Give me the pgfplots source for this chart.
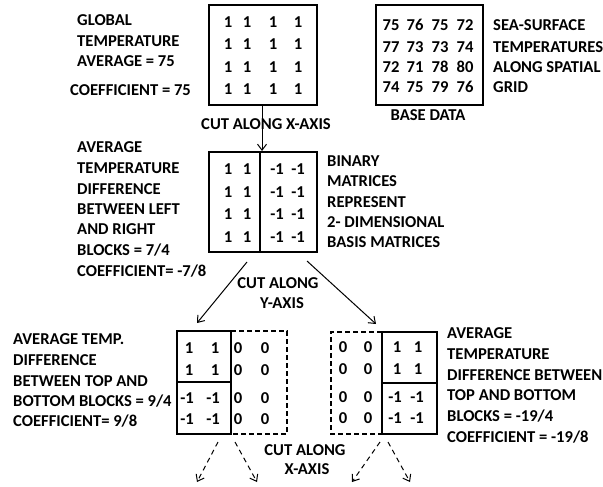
\documentclass[border=0pt]{standalone}
\usepackage{pgfplots}
\pgfplotsset{compat=1.18}
\usepackage{fontspec}
\setmainfont{Carlito}
\usetikzlibrary{arrows.meta}
\begin{document}
\begin{tikzpicture}
\begin{axis}[
  name=main,
  scale only axis, width=603bp, height=487bp,
  xmin=0, xmax=603, ymin=0, ymax=487, y dir=reverse,
  hide axis, clip=true,
  every node/.style={font=\fontsize{16.6bp}{18bp}\bfseries\selectfont, inner sep=0pt},
  mat/.style={draw=none, mark=none, nodes near coords={\pgfplotspointmeta}, nodes near coords align=center, point meta=explicit symbolic,
    every node near coord/.style={font=\fontsize{16.6bp}{18bp}\bfseries\selectfont, inner sep=0pt, anchor=center}},
  lab/.style={draw=none, mark=none, nodes near coords={\pgfplotspointmeta}, point meta=explicit symbolic,
    every node near coord/.style={font=\fontsize{16.6bp}{18bp}\bfseries\selectfont, inner sep=0pt, anchor=west}},
  box/.style={black, line width=2bp, line join=miter, mark=none},
  dbox/.style={black, line width=1.8bp, mark=none, dash pattern=on 5bp off 3bp},
  arr/.style={black, line width=1bp, mark=none, -{Straight Barb[length=6bp,width=9bp]}},
  darr/.style={black, line width=1bp, mark=none, dash pattern=on 5bp off 4bp, -{Straight Barb[length=6bp,width=9bp]}},
]
% ---------- top: global average matrix ----------
\addplot[box] coordinates {(263,5) (317,5) (317,105) (209,105) (209,5) (263,5)};
\addplot[mat] coordinates {
(228,22)[1] (247,22)[1] (273,22)[1] (298,22)[1]
(228,44)[1] (247,44)[1] (273,44)[1] (298,44)[1]
(228,67)[1] (247,67)[1] (273,67)[1] (298,67)[1]
(228,89)[1] (247,89)[1] (273,89)[1] (298,89)[1]};
\addplot[lab] coordinates {(77,20)[GLOBAL] (77,41)[TEMPERATURE] (77,61)[AVERAGE = 75] (70,90)[COEFFICIENT = 75]};
% ---------- base data ----------
\addplot[box] coordinates {(430,5) (483,5) (483,105) (376,105) (376,5) (430,5)};
\addplot[mat] coordinates {
(391,25)[75] (415,25)[76] (440,25)[75] (465,25)[72]
(391,47)[77] (415,47)[73] (440,47)[73] (465,47)[74]
(391,67)[72] (415,67)[71] (440,67)[78] (465,67)[80]
(391,87)[74] (415,87)[75] (440,87)[79] (465,87)[76]};
\addplot[lab] coordinates {(493,25)[SEA-SURFACE] (493,47)[TEMPERATURES] (493,67)[ALONG SPATIAL] (493,87)[GRID]};
\addplot[mat] coordinates {(428,115)[BASE DATA]};
% ---------- cut along x ----------
\addplot[mat] coordinates {(266,124)[CUT ALONG X-AXIS]};
\addplot[arr] coordinates {(262,105) (262,151)};
% ---------- middle matrix ----------
\addplot[box] coordinates {(263,152) (317,152) (317,252) (209,252) (209,152) (263,152)};
\addplot[black, line width=1.3bp, mark=none] coordinates {(260,152) (260,252)};
\addplot[mat] coordinates {
(228,169)[1] (247,169)[1] (277,169)[-1] (298,169)[-1]
(228,192)[1] (247,192)[1] (277,192)[-1] (298,192)[-1]
(228,214)[1] (247,214)[1] (277,214)[-1] (298,214)[-1]
(228,237)[1] (247,237)[1] (277,237)[-1] (298,237)[-1]};
\addplot[lab] coordinates {(77,147)[AVERAGE] (77,168)[TEMPERATURE] (77,189)[DIFFERENCE] (77,209)[BETWEEN LEFT] (77,229)[AND RIGHT] (77,250)[BLOCKS = 7/4] (77,271)[COEFFICIENT= -7/8]};
\addplot[lab] coordinates {(327,161)[BINARY] (327,181)[MATRICES] (327,202)[REPRESENT] (327,222)[2- DIMENSIONAL] (327,242)[BASIS MATRICES]};
% ---------- cut along y ----------
\addplot[arr] coordinates {(247,262) (197,323)};
\addplot[arr] coordinates {(307,261) (376,324)};
\addplot[mat] coordinates {(278,283)[CUT ALONG] (282,303)[Y-AXIS]};
% ---------- lower left ----------
\addplot[box] coordinates {(204,331) (231,331) (231,434) (177,434) (177,331) (204,331)};
\addplot[box] coordinates {(177,382) (231,382)};
\addplot[dbox] coordinates {(231,331) (287,331) (287,434) (231,434)};
\addplot[mat] coordinates {
(189,348)[1] (215,348)[1] (238,348)[0] (265,348)[0]
(189,370)[1] (215,370)[1] (238,370)[0] (265,370)[0]
(187,398)[-1] (213,398)[-1] (238,398)[0] (265,398)[0]
(187,419)[-1] (213,419)[-1] (238,419)[0] (265,419)[0]};
\addplot[lab] coordinates {(13,339)[AVERAGE TEMP.] (13,360)[DIFFERENCE] (13,381)[BETWEEN TOP AND] (13,401)[BOTTOM BLOCKS = 9/4] (13,421)[COEFFICIENT= 9/8]};
\addplot[darr] coordinates {(218,442) (197,482)};
\addplot[darr] coordinates {(235,442) (257,482)};
% ---------- lower right ----------
\addplot[box] coordinates {(410,332) (437,332) (437,434) (382,434) (382,332) (410,332)};
\addplot[box] coordinates {(382,383) (437,383)};
\addplot[dbox] coordinates {(382,332) (331,332) (331,434) (382,434)};
\addplot[mat] coordinates {
(343,347)[0] (368,347)[0] (397,347)[1] (418,347)[1]
(343,369)[0] (368,369)[0] (397,369)[1] (418,369)[1]
(343,397)[0] (368,397)[0] (395,397)[-1] (417,397)[-1]
(343,418)[0] (368,418)[0] (395,418)[-1] (417,418)[-1]};
\addplot[lab] coordinates {(447,333)[AVERAGE] (447,354)[TEMPERATURE] (447,375)[DIFFERENCE BETWEEN] (447,395)[TOP AND BOTTOM] (447,416)[BLOCKS = -19/4] (447,437)[COEFFICIENT = -19/8]};
\addplot[darr] coordinates {(380,442) (352,482)};
\addplot[darr] coordinates {(388,442) (410,482)};
\addplot[mat] coordinates {(305,450)[CUT ALONG] (307,469)[X-AXIS]};
\end{axis}
\pgfresetboundingbox
\path[use as bounding box] (main.south west) rectangle (main.north east);
\end{tikzpicture}
\end{document}
